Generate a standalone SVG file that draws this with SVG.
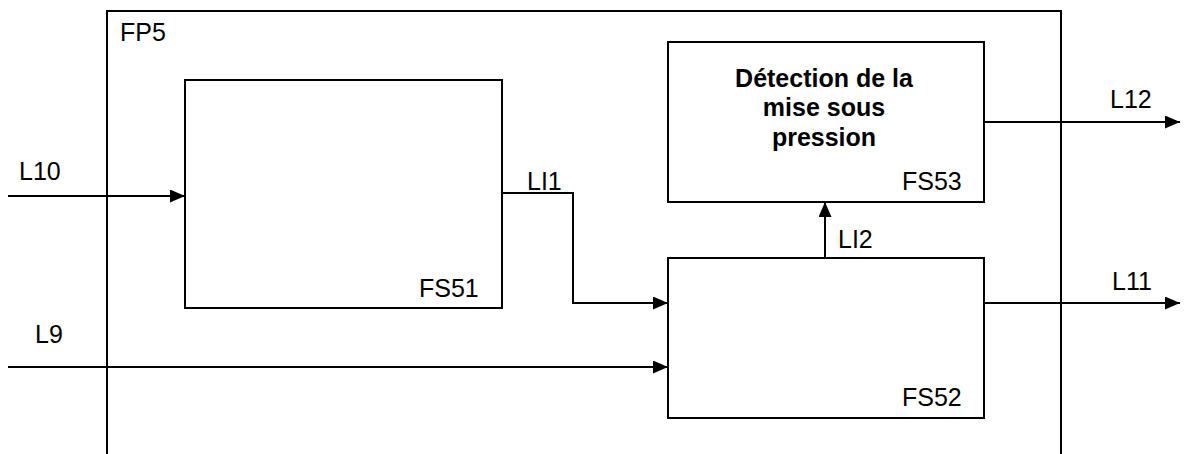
<svg xmlns="http://www.w3.org/2000/svg" width="1184" height="454" viewBox="0 0 1184 454">
<style>
.box{fill:none;stroke:#000;stroke-width:2}
.ln{fill:none;stroke:#000;stroke-width:2}
.t{font-family:"Liberation Sans",Arial,sans-serif;font-size:25px;fill:#000}
.b{font-family:"Liberation Sans",Arial,sans-serif;font-size:25px;font-weight:bold;fill:#000;text-anchor:middle}
</style>
<defs>
<marker id="ah" markerWidth="15" markerHeight="13" refX="15" refY="6.5" orient="auto" markerUnits="userSpaceOnUse">
<path d="M0,0 L15,6.5 L0,13 Z" fill="#000"/>
</marker>
</defs>
<rect width="1184" height="454" fill="#fff"/>
<g id="FP5">
<path class="box" d="M107,460 L107,11 L1061,11 L1061,460"/>
<text class="t" x="120" y="41">FP5</text>
</g>
<g id="FS51">
<rect class="box" x="185" y="80" width="317" height="228"/>
<text class="t" x="419" y="297">FS51</text>
</g>
<g id="FS53">
<rect class="box" x="668" y="42" width="316" height="160"/>
<text class="b" x="824" y="87">Détection de la</text>
<text class="b" x="824" y="116">mise sous</text>
<text class="b" x="824" y="146">pression</text>
<text class="t" x="902" y="190">FS53</text>
</g>
<g id="FS52">
<rect class="box" x="668" y="258" width="316" height="160"/>
<text class="t" x="902" y="406">FS52</text>
</g>
<g id="connectors">
<line class="ln" x1="8" y1="196" x2="185" y2="196" marker-end="url(#ah)"/>
<text class="t" x="19" y="180">L10</text>
<line class="ln" x1="8" y1="367" x2="668" y2="367" marker-end="url(#ah)"/>
<text class="t" x="35" y="343">L9</text>
<polyline class="ln" points="502,193 573,193 573,303 668,303" marker-end="url(#ah)"/>
<text class="t" x="527" y="190">LI1</text>
<line class="ln" x1="825" y1="258" x2="825" y2="202" marker-end="url(#ah)"/>
<text class="t" x="838" y="248">LI2</text>
<line class="ln" x1="984" y1="303" x2="1180" y2="303" marker-end="url(#ah)"/>
<text class="t" x="1112" y="290">L11</text>
<line class="ln" x1="984" y1="122" x2="1180" y2="122" marker-end="url(#ah)"/>
<text class="t" x="1110" y="108">L12</text>
</g>
</svg>
